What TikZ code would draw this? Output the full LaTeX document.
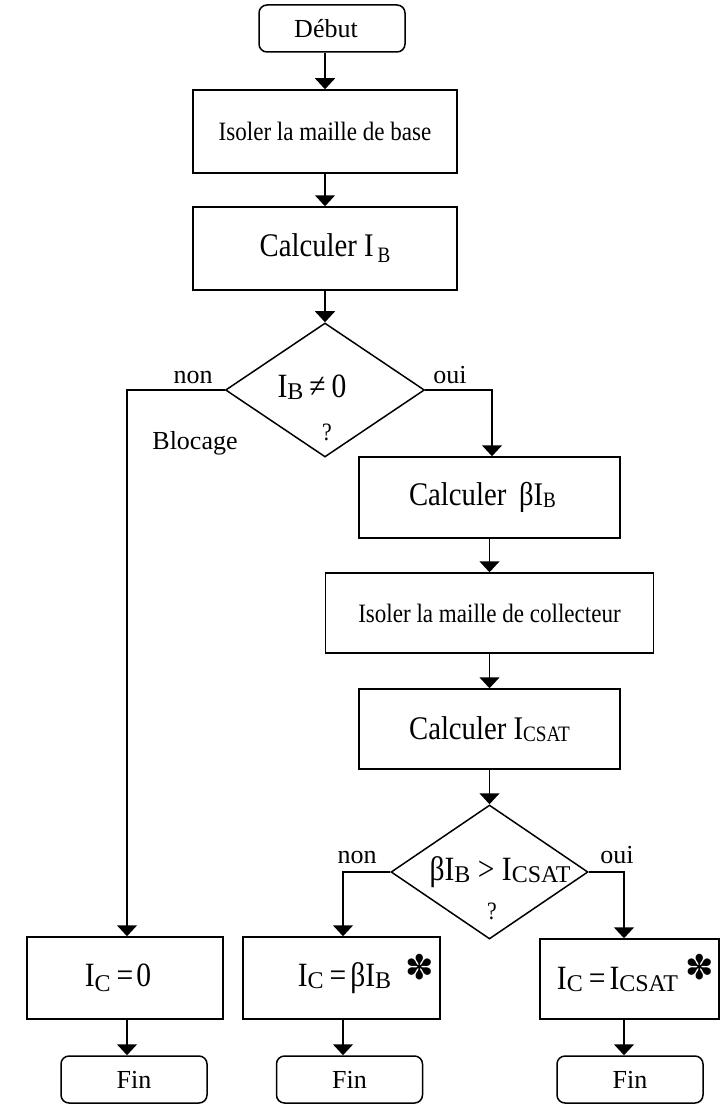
\documentclass[tikz,border=0pt]{standalone}
\usepackage{fontspec}
\setmainfont{Liberation Serif}
\newfontfamily\nrw{Liberation Serif}[FakeStretch=0.87]
\newfontfamily\symf{DejaVu Sans}
\usetikzlibrary{shapes.geometric,arrows.meta}
\newcommand\ix[2][2pt]{\raisebox{-#1}{\rmfamily\fontsize{24}{24}\selectfont #2}}
\newcommand\iy[2][2pt]{\raisebox{-#1}{\fontsize{22}{22}\selectfont #2}}

\begin{document}
\begin{tikzpicture}[x=1pt,y=-1pt,line width=1.5pt,
        boite/.style={draw,rectangle,inner sep=0pt,font=\nrw\fontsize{26.5}{30}\selectfont},
        calc/.style={boite,font=\nrw\fontsize{33}{36}\selectfont},
        eq/.style={boite,font=\nrw\fontsize{34}{36}\selectfont},
        bout/.style={draw,rounded corners=8pt,minimum width=146pt,minimum height=47pt,inner sep=0pt,font=\fontsize{26}{30}\selectfont},
        test/.style={draw,diamond,inner sep=0pt,minimum width=199pt,minimum height=134pt},
        lbl/.style={anchor=base,inner sep=0pt,font=\fontsize{26}{30}\selectfont},
        etoile/.style={inner sep=0pt,font=\symf\bfseries\fontsize{34}{34}\selectfont},
        fl/.style={-{Triangle[width=20pt,length=11pt]}}]
        \useasboundingbox (0,0) rectangle (722,1105);
        \node[bout] (debut) at (332,28.5) {Début\hspace{12pt}\null};
        \node[boite,minimum width=264pt,minimum height=83pt] (base) at (325,131.5) {Isoler la maille de base};
        \node[calc,minimum width=264pt,minimum height=83pt] (calib) at (325,248.5) {Calculer I\hspace{4pt}\iy[6pt]{B}};
        \node[test] (test1) at (325,390) {};
        \node[lbl,font=\nrw\fontsize{34}{36}\selectfont] (cond1) at (312,397) {I\ix{B}\hspace{6pt}≠\hspace{6pt}0};
        \node[lbl,font=\nrw\fontsize{25}{25}\selectfont] (q1) at (327,440) {?};
        \node[lbl] (non1) at (193,383) {non};
        \node[lbl] (oui1) at (450,383) {oui};
        \node[lbl] (bloc) at (195,449) {Blocage};
        \node[calc,minimum width=261pt,minimum height=81pt] (calbib) at (489.5,497.5) {Calculer \,βI\iy{B}\hspace{14pt}\null};
        \node[boite,minimum width=328pt,minimum height=80pt] (coll) at (489.5,613) {Isoler la maille de collecteur};
        \node[calc,minimum width=261pt,minimum height=80pt] (calsat) at (489.5,729) {Calculer I\iy{CSAT}};
        \node[test,minimum width=197pt] (test2) at (489.5,872) {};
        \node[lbl,font=\nrw\fontsize{34}{36}\selectfont] (cond2) at (500,880) {βI\ix{B} > I\ix{CSAT}};
        \node[lbl,font=\nrw\fontsize{25}{25}\selectfont] (q2) at (492,919) {?};
        \node[lbl] (non2) at (357,863) {non};
        \node[lbl] (oui2) at (617,863) {oui};
        \node[eq,minimum width=196pt,minimum height=82pt] (ic0) at (125,978) {I\ix[5pt]{C}\hspace{6pt}=\hspace{3pt}0\hspace{14pt}\null};
        \node[eq,minimum width=197pt,minimum height=82pt] (ic1) at (341.5,978) {\hspace{6pt}I\ix{C}\hspace{6pt}=\hspace{4pt}βI\ix{B}};
        \node[eq,minimum width=179pt,minimum height=80pt] (ic2) at (629.5,979) {I\ix{C}\hspace{6pt}=\hspace{4pt}I\ix{CSAT}\hspace{24pt}\null};
        \node[etoile] (st1) at (420,967) {✽};
        \node[etoile] (st2) at (700,967) {✽};
        \node[bout] (fin0) at (134,1079.5) {Fin};
        \node[bout] (fin1) at (349.5,1079.5) {Fin};
        \node[bout] (fin2) at (630,1079.5) {Fin};
        \draw[fl] (debut.south -| base.north) -- (base.north);
        \draw[fl] (base) -- (calib);
        \draw[fl] (calib) -- (test1);
        \draw[fl] (test1.west) -| ([xshift=2pt]ic0.north);
        \draw[fl] (test1.east) -| ([xshift=2.5pt]calbib.north);
        \draw[fl] (calbib) -- (coll);
        \draw[fl] (coll) -- (calsat);
        \draw[fl] (calsat) -- (test2);
        \draw[fl] (test2.west) -| ([xshift=1.5pt]ic1.north);
        \draw[fl] (test2.east) -| ([xshift=-5.5pt]ic2.north);
        \draw[fl] ([xshift=2pt]ic0.south) -- ([xshift=2pt]ic0.south |- fin0.north);
        \draw[fl] ([xshift=1.5pt]ic1.south) -- ([xshift=1.5pt]ic1.south |- fin1.north);
        \draw[fl] ([xshift=-5.5pt]ic2.south) -- ([xshift=-5.5pt]ic2.south |- fin2.north);
\end{tikzpicture}
\end{document}
